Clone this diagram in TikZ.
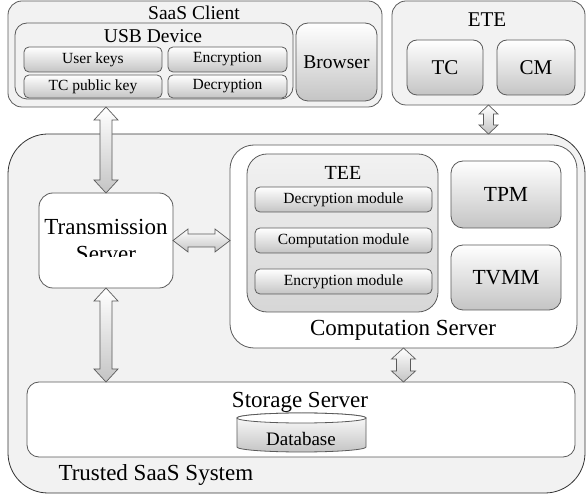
\documentclass[tikz,border=0pt]{standalone}
\usepackage{fontspec}
\setmainfont{Liberation Serif}
\usetikzlibrary{calc}

\definecolor{panel}{HTML}{F2F2F2}
\definecolor{edge}{HTML}{5A5A5A}
\definecolor{shadelo}{HTML}{C4C4C4}

\newcommand\fsz[1]{\fontsize{#1}{#1}\selectfont}

% fat double arrows: from, to, shaft half width, head half width, head length
\newcommand\vfat[5]{%
  \path (#1) coordinate (fa) (#2) coordinate (fb);
  \shade[fatarr] (fa) -- ($(fa)+(#4,#5)$) -- ($(fa)+(#3,#5)$) -- ($(fb)+(#3,-#5)$)
    -- ($(fb)+(#4,-#5)$) -- (fb) -- ($(fb)+(-#4,-#5)$) -- ($(fb)+(-#3,-#5)$)
    -- ($(fa)+(-#3,#5)$) -- ($(fa)+(-#4,#5)$) -- cycle;}
\newcommand\hfat[5]{%
  \path (#1) coordinate (fa) (#2) coordinate (fb);
  \shade[fatarr] (fa) -- ($(fa)+(#5,-#4)$) -- ($(fa)+(#5,-#3)$) -- ($(fb)+(-#5,-#3)$)
    -- ($(fb)+(-#5,-#4)$) -- (fb) -- ($(fb)+(-#5,#4)$) -- ($(fb)+(-#5,#3)$)
    -- ($(fa)+(#5,#3)$) -- ($(fa)+(#5,#4)$) -- cycle;}

\tikzset{
  box/.style={draw=edge, line width=0.8pt, inner sep=0pt, outer sep=0pt},
  panelbox/.style={box, fill=panel, rounded corners=14pt},
  whitebox/.style={box, fill=white, rounded corners=14pt},
  shadebox/.style={box, top color=white, bottom color=shadelo, rounded corners=10pt},
  modbox/.style={shadebox, rounded corners=5pt, font=\fsz{15.5}},
  fatarr/.style={draw=edge, line width=0.7pt, top color=white, bottom color=shadelo},
}

\begin{document}
\begin{tikzpicture}[x=1pt, y=-1pt]
  \useasboundingbox (0,0) rectangle (587,494);

  % SaaS client
  \node[panelbox, minimum width=374, minimum height=106] (client) at (195,54) {};
  \node[font=\fsz{19.5}] (client-title) at (194,13) {SaaS Client};
  \node[panelbox, rounded corners=12pt, minimum width=278, minimum height=76] (usb) at (154,61) {};
  \node[font=\fsz{19.5}] (usb-title) at (153,36) {USB Device};
  \node[modbox, minimum width=138, minimum height=25] (userkeys) at (93,59.5) {User keys};
  \node[modbox, minimum width=119, minimum height=25] (enc) at (227.5,59.5) {Encryption};
  \node[modbox, minimum width=138, minimum height=23] (tcpub) at (93,86.5) {TC public key};
  \node[modbox, minimum width=119, minimum height=23] (dec) at (227.5,86.5) {Decryption};
  \node[shadebox, rounded corners=12pt, minimum width=81, minimum height=78, font=\fsz{19.5}] (browser) at (336.5,62) {Browser};

  % ETE
  \node[panelbox, minimum width=193, minimum height=104] (ete) at (488.5,53) {};
  \node[font=\fsz{21}] (ete-title) at (487,20) {ETE};
  \node[shadebox, minimum width=76, minimum height=55, font=\fsz{21}] (tc) at (445,67.5) {TC};
  \node[shadebox, minimum width=78, minimum height=55, font=\fsz{21}] (cm) at (536,67.5) {CM};

  % trusted system
  \node[panelbox, draw=black!80, rounded corners=40pt, minimum width=577, minimum height=359] (trusted) at (296.5,313.5) {};
  \node[font=\fsz{23}, anchor=west] (trusted-title) at (55,475) {Trusted SaaS System};

  \node[whitebox, minimum width=134, minimum height=95] (trans) at (106,240.5) {};
  \coordinate (clipline) at (0,257);
  \begin{scope}
    \clip (trans.north west) rectangle (trans.east |- clipline);
    \node[align=center, font=\fontsize{23}{28}\selectfont] (trans-text) at (trans.center) {Transmission\\Server};
  \end{scope}

  \node[whitebox, rounded corners=24pt, minimum width=347, minimum height=203] (comp) at (403.5,246.5) {};
  \node[font=\fsz{23}] (comp-title) at (403,330) {Computation Server};
  \node[box, rounded corners=20pt, top color=panel, bottom color=black!16, minimum width=191, minimum height=158] (tee) at (342.5,233) {};
  \node[font=\fsz{20}] (tee-title) at (343,173) {TEE};
  \node[modbox, minimum width=177, minimum height=25] (decmod) at (343.5,199.5) {Decryption module};
  \node[modbox, minimum width=177, minimum height=25] (compmod) at (343.5,240.5) {Computation module};
  \node[modbox, minimum width=177, minimum height=25] (encmod) at (343.5,281.5) {Encryption module};
  \node[shadebox, rounded corners=12pt, minimum width=110, minimum height=67, font=\fsz{21.5}] (tpm) at (506,194.5) {TPM};
  \node[shadebox, rounded corners=12pt, minimum width=110, minimum height=65, font=\fsz{21.5}] (tvmm) at (506,277.5) {TVMM};

  \node[whitebox, rounded corners=12pt, minimum width=548, minimum height=75] (storage) at (301,419.5) {};
  \node[font=\fsz{23}] (storage-title) at (300,402) {Storage Server};
  \shade[box, top color=white, bottom color=shadelo] (237,418) -- (237,447)
    arc[start angle=180, end angle=360, x radius=64.5pt, y radius=5pt] -- (366,418)
    arc[start angle=0, end angle=180, x radius=64.5pt, y radius=5pt] -- cycle;
  \draw[box, fill=white] (301.5,418) ellipse[x radius=64.5pt, y radius=5pt];
  \node[font=\fsz{19}] (db) at (301,439) {Database};

  % arrows
  \vfat{client.south -| trans.north}{trans.north}{6}{12}{13}
  \vfat{trans.south}{trans.south |- storage.north}{6}{12}{13}
  \hfat{trans.east}{trans.east -| comp.west}{6.5}{11.5}{15}
  \vfat{comp.south}{comp.south |- storage.north}{7}{12}{11}
  \vfat{ete.south}{ete.south |- trusted.north}{5}{9.5}{9}
\end{tikzpicture}
\end{document}
